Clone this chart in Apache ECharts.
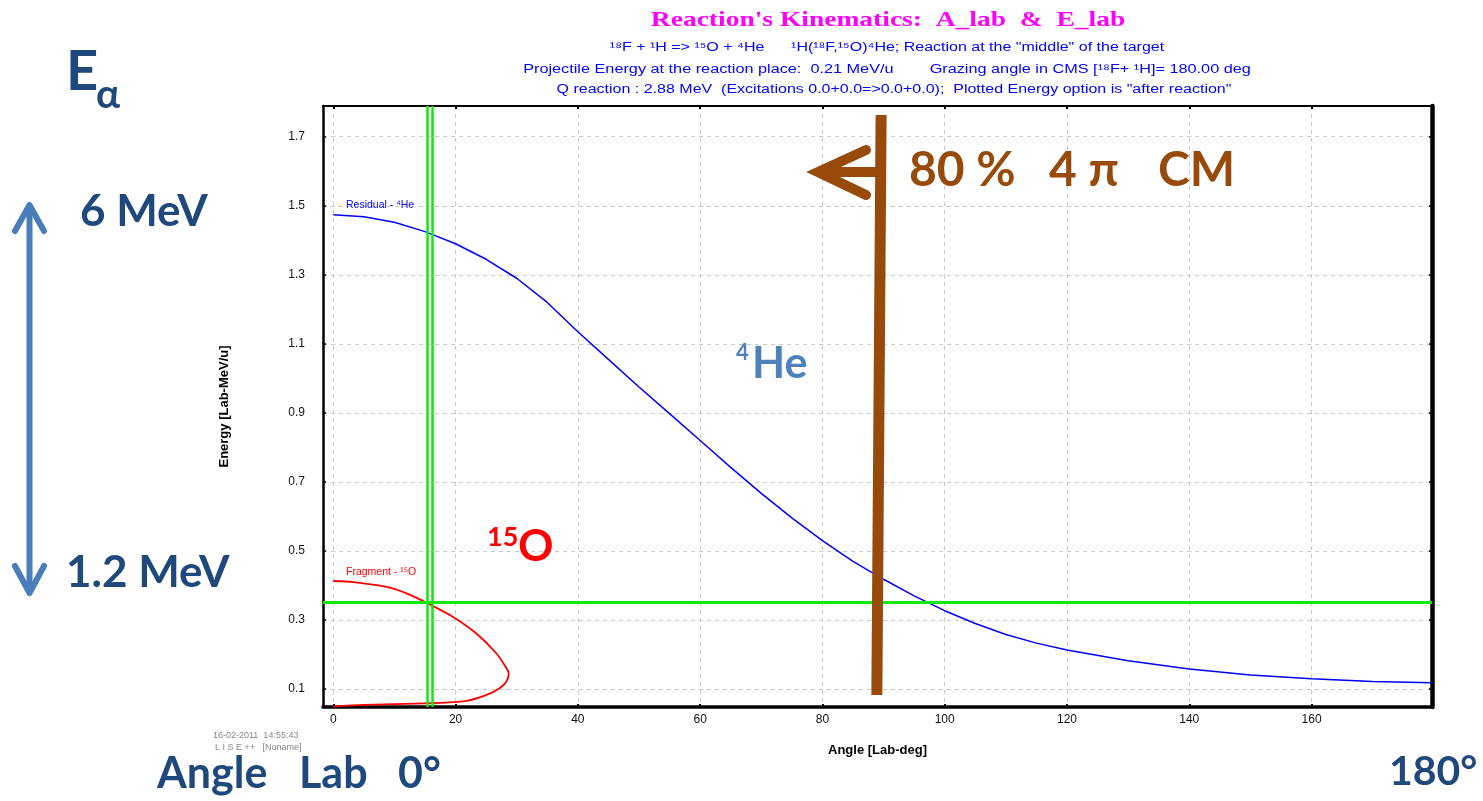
<!DOCTYPE html>
<html>
<head>
<meta charset="utf-8">
<title>Reaction's Kinematics</title>
<script src="https://cdn.jsdelivr.net/npm/echarts@6/dist/echarts.min.js"></script>
<style>
  html, body { margin: 0; padding: 0; background: #fff; }
  #kinematics { width: 1483px; height: 801px; }
</style>
</head>
<body>
<div id="kinematics"></div>
<script>
// residual 4He : lab angle (deg) / energy (MeV/u)
var heAngle = [0, 5, 10, 15, 20, 25, 30, 35, 40, 45, 50, 55, 60, 65, 70, 75, 80, 85, 90, 95, 100, 105, 110, 115, 120, 130, 140, 150, 160, 170, 179.7];
var heEnergy = [1.474, 1.468, 1.452, 1.425, 1.39, 1.345, 1.29, 1.22, 1.135, 1.055, 0.975, 0.898, 0.82, 0.742, 0.667, 0.596, 0.53, 0.47, 0.418, 0.37, 0.327, 0.29, 0.258, 0.233, 0.213, 0.182, 0.158, 0.141, 0.13, 0.122, 0.118];

// fragment 15O (goes out to max angle and back)
var oAngle = [0, 3.3, 8.7, 12.0, 15.8, 19.6, 23.4, 26.7, 28.2, 28.7, 28.3, 27.2, 25.1, 21.8, 15.8, 4.9, 0];
var oEnergy = [0.413, 0.410, 0.396, 0.377, 0.345, 0.309, 0.261, 0.203, 0.164, 0.145, 0.121, 0.102, 0.083, 0.066, 0.059, 0.054, 0.049];

var angleTicks = [0, 20, 40, 60, 80, 100, 120, 140, 160];
var energyTicks = [0.1, 0.3, 0.5, 0.7, 0.9, 1.1, 1.3, 1.5, 1.7];

// green cut lines
var cutAngles = [15.37, 16.13];
var cutEnergy = 0.347;

// brown "80 %" marker (deg, MeV/u at its two ends)
var markAngle = [89.6, 88.9];
var markEnergy = [1.763, 0.083];

var X_MIN = -1.68, X_MAX = 179.7, Y_MIN = 0.048, Y_MAX = 1.789;

function pairs(xs, ys) {
  return xs.map(function (x, i) { return [x, ys[i]]; });
}

var darkBlue = '#1f497d';
var brown = '#984a0b';
var calibri = 'Lato, "Open Sans", sans-serif';
var arial = '"Liberation Sans", Arial, sans-serif';

function txt(text, x, y, size, color, opt) {
  opt = opt || {};
  return {
    type: 'text', z: 100,
    x: x, y: y,
    scaleX: opt.scaleX || 1,
    style: {
      text: text, x: 0, y: 0,
      fill: color,
      fontSize: size,
      fontWeight: opt.weight || 'bold',
      fontFamily: opt.family || calibri,
      textAlign: opt.align || 'left',
      textVerticalAlign: 'middle'
    }
  };
}

var chart = echarts.init(document.getElementById('kinematics'));

var option = {
  backgroundColor: '#fff',
  animation: false,
  grid: { left: 323, right: 51, top: 106, bottom: 94 },
  xAxis: [
    {
      type: 'value', min: X_MIN, max: X_MAX,
      name: 'Angle [Lab-deg]', nameLocation: 'middle', nameGap: 37,
      nameTextStyle: { color: '#000', fontSize: 13, fontWeight: 'bold', fontFamily: arial },
      axisLine: { onZero: false, lineStyle: { color: '#000', width: 3.5 } },
      axisTick: { inside: true, length: 3, customValues: angleTicks, lineStyle: { color: '#000', width: 2 } },
      axisLabel: { customValues: angleTicks, color: '#111', fontSize: 12, fontFamily: arial, margin: 7 },
      splitLine: { show: true, lineStyle: { color: '#c8c8c8', type: [4, 4], width: 1 } }
    },
    {
      type: 'value', position: 'top', min: X_MIN, max: X_MAX,
      axisLine: { onZero: false, lineStyle: { color: '#000', width: 2 } },
      axisTick: { inside: true, length: 3, customValues: angleTicks, lineStyle: { color: '#000', width: 2 } },
      axisLabel: { show: false },
      splitLine: { show: false }
    }
  ],
  yAxis: [
    {
      type: 'value', min: Y_MIN, max: Y_MAX,
      name: 'Energy [Lab-MeV/u]', nameLocation: 'middle', nameGap: 92,
      nameTextStyle: { color: '#000', fontSize: 13, fontWeight: 'bold', fontFamily: arial },
      axisLine: { show: true, onZero: false, lineStyle: { color: '#000', width: 2.5 } },
      axisTick: { show: true, inside: true, length: 3, customValues: energyTicks, lineStyle: { color: '#000', width: 1.5 } },
      axisLabel: { customValues: energyTicks, color: '#111', fontSize: 12, fontFamily: arial, margin: 18 },
      splitLine: { show: true, lineStyle: { color: '#c8c8c8', type: [4, 4], width: 1 } }
    },
    {
      type: 'value', position: 'right', min: Y_MIN, max: Y_MAX,
      axisLine: { show: true, onZero: false, lineStyle: { color: '#000', width: 4.5 } },
      axisTick: { show: true, inside: true, length: 3, customValues: energyTicks, lineStyle: { color: '#000', width: 1.5 } },
      axisLabel: { show: false },
      splitLine: { show: false }
    }
  ],
  series: [
    {
      name: 'cuts', type: 'line', data: [], z: 3,
      markLine: {
        silent: true, symbol: 'none', animation: false,
        label: { show: false },
        lineStyle: { color: '#10e810', type: 'solid', width: 2.5 },
        data: [
          { xAxis: cutAngles[0] },
          { xAxis: cutAngles[1] },
          { yAxis: cutEnergy, lineStyle: { color: '#10e810', type: 'solid', width: 3 } }
        ]
      }
    },
    {
      name: 'Residual - 4He', type: 'line', data: pairs(heAngle, heEnergy),
      showSymbol: false, symbol: 'none', z: 4,
      lineStyle: { color: '#0000ff', width: 1.5 }
    },
    {
      name: 'Fragment - 15O', type: 'line', data: pairs(oAngle, oEnergy),
      showSymbol: false, symbol: 'none', smooth: 0.3, z: 4,
      lineStyle: { color: '#ff0000', width: 1.8 }
    },
    {
      name: '80% 4pi CM', type: 'line', data: pairs(markAngle, markEnergy),
      showSymbol: false, symbol: 'none', z: 6,
      lineStyle: { color: brown, width: 11, cap: 'butt' }
    }
  ],
  graphic: [
    // header
    txt("Reaction's Kinematics:  A_lab  &  E_lab", 888, 20, 22, '#ff00ff', { family: '"Liberation Serif", "DejaVu Serif", serif', align: 'center', scaleX: 1.25 }),
    txt('¹⁸F + ¹H => ¹⁵O + ⁴He      ¹H(¹⁸F,¹⁵O)⁴He; Reaction at the "middle" of the target', 887, 48, 12.5, '#0000ff', { weight: 'normal', family: arial, align: 'center', scaleX: 1.28 }),
    txt('Projectile Energy at the reaction place:  0.21 MeV/u        Grazing angle in CMS [¹⁸F+ ¹H]= 180.00 deg', 887, 70, 12.5, '#0000ff', { weight: 'normal', family: arial, align: 'center', scaleX: 1.3 }),
    txt('Q reaction : 2.88 MeV  (Excitations 0.0+0.0=>0.0+0.0);  Plotted Energy option is "after reaction"', 894, 90, 12.5, '#0000ff', { weight: 'normal', family: arial, align: 'center', scaleX: 1.28 }),

    // curve tags
    txt('Residual - ⁴He', 346, 205, 10.5, '#0000ff', { weight: 'normal', family: arial }),
    txt('Fragment - ¹⁵O', 346, 572, 10.5, '#ff0000', { weight: 'normal', family: arial }),

    // stamp
    txt('16-02-2011  14:55:43', 213, 736, 9, '#888', { weight: 'normal', family: arial }),
    txt('L I S E ++   [Noname]', 215, 748, 9, '#888', { weight: 'normal', family: arial }),

    // slide overlays
    txt('E', 66, 72, 56, darkBlue),
    txt('α', 96, 95, 40, darkBlue),
    txt('6 MeV', 80, 212, 44, darkBlue),
    txt('1.2 MeV', 66, 573, 44, darkBlue),
    txt('Angle', 157, 774, 43, darkBlue),
    txt('Lab', 299, 774, 43, darkBlue),
    txt('0°', 398, 774, 43, darkBlue),
    txt('180°', 1389, 772, 41, darkBlue),
    txt('4', 736, 353, 22, '#4f81bd'),
    txt('He', 752, 364, 43, '#4f81bd'),
    txt('15', 487, 537, 27, '#ff0000'),
    txt('O', 518, 547, 44, '#ff0000'),
    txt('80 %', 909, 171, 48, brown),
    txt('4 π', 1049, 171, 48, brown),
    txt('CM', 1158, 171, 48, brown),

    // brown arrow head
    {
      type: 'polyline', z: 90,
      shape: { points: [[866, 150], [818, 172], [866, 195]] },
      style: { stroke: brown, lineWidth: 10, fill: null, lineCap: 'round', lineJoin: 'miter' }
    },
    {
      type: 'line', z: 90,
      shape: { x1: 820, y1: 172, x2: 876, y2: 172 },
      style: { stroke: brown, lineWidth: 10 }
    },

    // double arrow on the left
    {
      type: 'line', z: 90,
      shape: { x1: 29.5, y1: 206, x2: 29.5, y2: 592 },
      style: { stroke: '#4a7ebb', lineWidth: 6 }
    },
    {
      type: 'polyline', z: 90,
      shape: { points: [[15, 231], [29.5, 205], [44, 231]] },
      style: { stroke: '#4a7ebb', lineWidth: 6, fill: null, lineCap: 'round', lineJoin: 'round' }
    },
    {
      type: 'polyline', z: 90,
      shape: { points: [[15, 566], [29.5, 593], [44, 566]] },
      style: { stroke: '#4a7ebb', lineWidth: 6, fill: null, lineCap: 'round', lineJoin: 'round' }
    }
  ]
};

chart.setOption(option);
</script>
</body>
</html>
